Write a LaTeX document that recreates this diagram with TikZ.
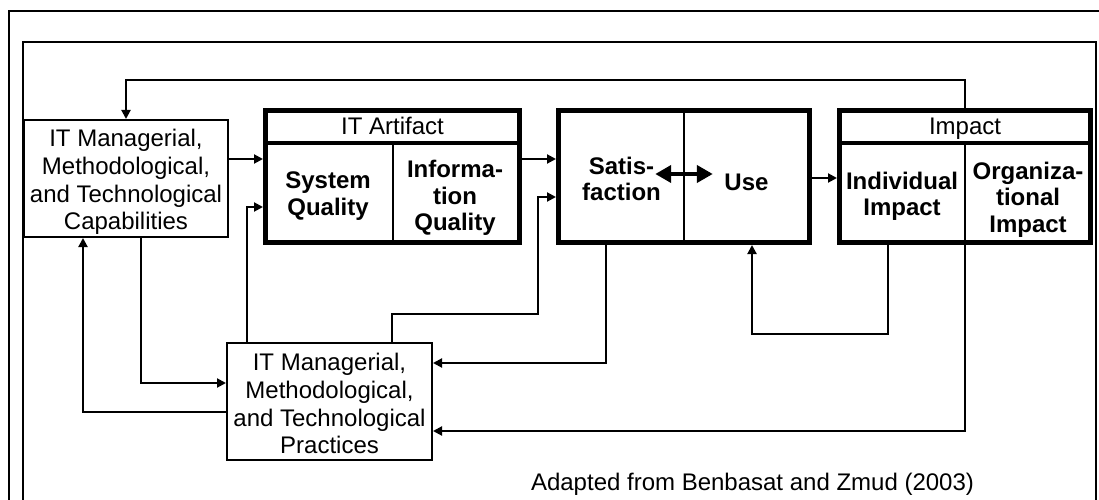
\documentclass[tikz,border=0pt]{standalone}
\usepackage{fontspec}
\setmainfont{Liberation Sans}
\usetikzlibrary{arrows.meta,positioning,calc}

\tikzset{
    conn/.style={line width=2pt, -{Triangle[length=9pt,width=9pt]}},
    dblarrow/.style={line width=4.5pt, {Triangle[length=16pt,width=17pt]}-{Triangle[length=16pt,width=17pt]}},
    frameline/.style={line width=2pt},
    plainbox/.style={draw, line width=2pt, minimum width=205pt, minimum height=117pt, inner sep=0pt},
    heavybox/.style={draw, line width=5pt, minimum height=132pt, inner sep=0pt},
    titlerule/.style={line width=3.5pt},
    cellrule/.style={line width=2pt},
    lbl/.style={font=\fontsize{24}{27.6}\selectfont, align=center, inner sep=0pt},
    boldlbl/.style={font=\fontsize{24}{26.5}\selectfont\bfseries, align=center, inner sep=0pt}
}

\begin{document}
\begin{tikzpicture}[x=1pt, y=-1pt]
    % Canvas, same size as the reference (1099 x 500)
    \fill[white] (0,0) rectangle (1099,500);
    \useasboundingbox (0,0) rectangle (1099,500);

    % Frames
    \draw[frameline] (8.5,500) -- (8.5,11.5) -- (1099,11.5);
    \draw[frameline] (22.5,500) -- (22.5,42) -- (1096,42) -- (1096,500);

    % Capabilities and practices boxes
    \node[plainbox, minimum width=204pt] (cap) at (126,178.5) {};
    \node[lbl, anchor=north] (captext) at (126,129.3) {IT Managerial,\\Methodological,\\and Technological\\Capabilities};
    \node[plainbox] (prac) at (329.5,401.5) {};
    \node[lbl, anchor=north] (practext) at (329.5,353.3) {IT Managerial,\\Methodological,\\and Technological\\Practices};

    % IT artifact
    \draw[titlerule] (265.5,143) -- (519.5,143);
    \draw[cellrule] (393,143) -- (393,242.5);
    \node[heavybox, minimum width=254pt] (art) at (392.5,176.5) {};
    \node[lbl, anchor=base] (arttitle) at (392.5,134.3) {IT Artifact};
    \node[boldlbl, anchor=north] (sysq) at (328,171.7) {System\\Quality};
    \node[boldlbl, anchor=north] (infq) at (455,160) {Informa-\\tion\\Quality};

    % Satisfaction and use
    \draw[cellrule] (684,110.5) -- (684,242.5);
    \node[heavybox, minimum width=251pt] (satuse) at (684,176.5) {};
    \node[boldlbl, anchor=north] (satis) at (621.5,156.7) {Satis-\\faction};
    \node[boldlbl, anchor=base] (use) at (746.5,190) {Use};

    % Impact
    \draw[titlerule] (839.5,143) -- (1090.5,143);
    \draw[cellrule] (965,143) -- (965,242.5);
    \node[heavybox, minimum width=251pt] (impact) at (965,176.5) {};
    \node[lbl, anchor=base] (imptitle) at (965,134.3) {Impact};
    \node[boldlbl, anchor=north] (indimp) at (902,171.7) {Individual\\Impact};
    \node[boldlbl, anchor=north] (orgimp) at (1028,161.7) {Organiza-\\tional\\Impact};

    % Source
    \node[lbl, anchor=base] (source) at (752.5,490) {Adapted from Benbasat and Zmud (2003)};

    % Routing rows and columns
    \coordinate (rowtop) at (0,159);
    \coordinate (rowsat) at (0,197);
    \coordinate (rowuse) at (0,178);
    \coordinate (rowart) at (0,207);
    \coordinate (rowdbl) at (0,174);
    \coordinate (rowcp) at (0,383);
    \coordinate (rowpc) at (0,412);
    \coordinate (rowsp) at (0,363);
    \coordinate (rowip) at (0,431);
    \coordinate (colcp) at (141,0);
    \coordinate (colpc) at (83,0);
    \coordinate (colpa) at (247,0);
    \coordinate (colps) at (392,0);
    \coordinate (colsp) at (606,0);
    \coordinate (colis) at (888,0);
    \coordinate (jogps) at (538,314);
    \coordinate (loopis) at (752,334);

    % Connectors
    \draw[conn] (impact.north) -- ++(0,-28) -| (cap.north);
    \draw[conn] (cap.east |- rowtop) -- (art.west |- rowtop);
    \draw[conn] (art.east |- rowtop) -- (satuse.west |- rowtop);
    \draw[conn] (satuse.east |- rowuse) -- (impact.west |- rowuse);
    \draw[conn] (cap.south -| colcp) |- (prac.west |- rowcp);
    \draw[conn] (prac.west |- rowpc) -| (cap.south -| colpc);
    \draw[conn] (prac.north -| colpa) |- (art.west |- rowart);
    \draw[conn] (prac.north -| colps) |- (jogps) |- (satuse.west |- rowsat);
    \draw[conn] (satuse.south -| colsp) |- (prac.east |- rowsp);
    \draw[conn] (impact.south -| colis) |- (loopis) -- (satuse.south -| loopis);
    \draw[conn] (impact.south) |- (prac.east |- rowip);
    \draw[dblarrow, shorten <=-5.8pt, shorten >=11.5pt] (satis.east |- rowdbl) -- (use.west |- rowdbl);
\end{tikzpicture}
\end{document}
